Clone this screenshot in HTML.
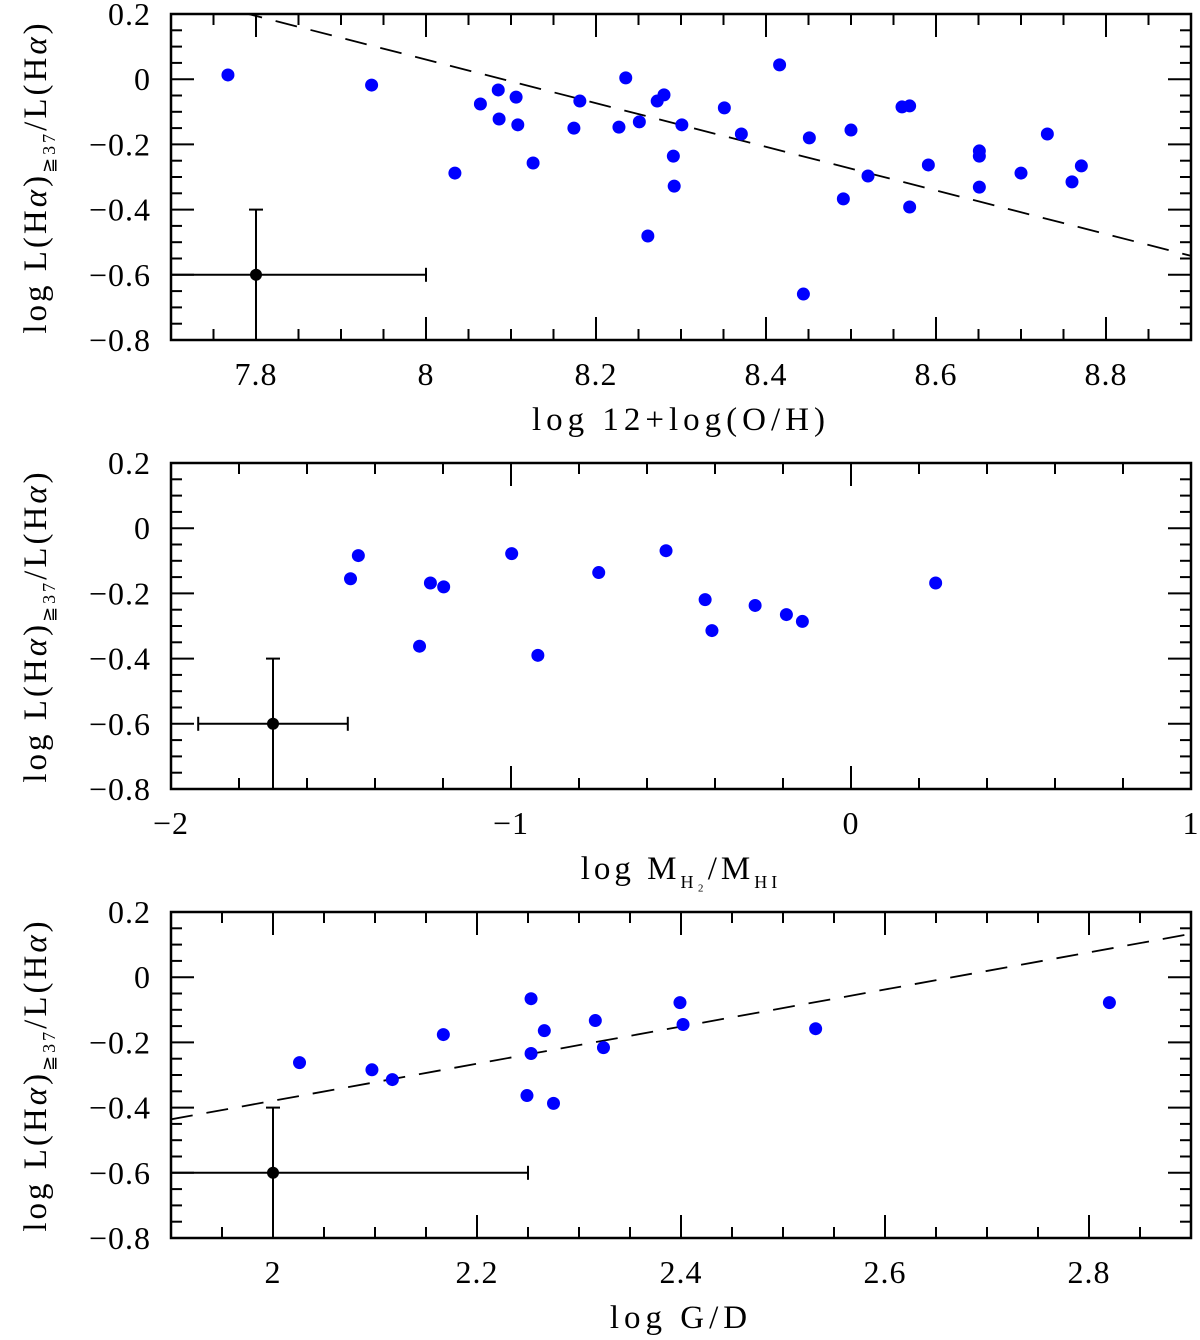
<!DOCTYPE html>
<html><head><meta charset="utf-8">
<style>
html,body{margin:0;padding:0;background:#fff;}
svg{display:block;}
text{font-family:"Liberation Serif","DejaVu Serif",serif;fill:#000;}
</style></head>
<body>
<svg id="chart" width="1200" height="1340" viewBox="0 0 1200 1340" xmlns="http://www.w3.org/2000/svg"></svg>
<script>
// Panel 1 data: metallicity
const p1X = [7.767,7.936,8.034,8.064,8.085,8.086,8.106,8.108,8.126,8.174,8.181,8.227,8.235,8.251,8.261,8.272,8.28,8.291,8.292,8.301,8.351,8.371,8.416,8.444,8.451,8.491,8.5,8.52,8.56,8.569,8.569,8.591,8.651,8.651,8.651,8.7,8.731,8.76,8.771];
const p1Y = [0.013,-0.018,-0.288,-0.076,-0.033,-0.122,-0.055,-0.14,-0.257,-0.15,-0.067,-0.147,0.004,-0.131,-0.481,-0.067,-0.048,-0.236,-0.328,-0.14,-0.088,-0.168,0.044,-0.659,-0.18,-0.367,-0.156,-0.297,-0.085,-0.082,-0.392,-0.263,-0.22,-0.236,-0.331,-0.288,-0.168,-0.315,-0.266];
const p1Fit = [0.194,-0.669,7.8];
const p1Err = [7.8,-0.6,7.7,8.0,-0.8,-0.4];
const p1XTicks = [7.8,8,8.2,8.4,8.6,8.8];
const p1XLabels = ["7.8","8","8.2","8.4","8.6","8.8"];
// Panel 2 data: molecular fraction
const p2X = [-1.472,-1.449,-1.269,-1.237,-1.198,-0.998,-0.921,-0.742,-0.544,-0.429,-0.409,-0.282,-0.19,-0.143,0.249];
const p2Y = [-0.155,-0.084,-0.362,-0.168,-0.18,-0.078,-0.39,-0.136,-0.069,-0.219,-0.314,-0.237,-0.265,-0.286,-0.168];
const p2Err = [-1.7,-0.6,-1.92,-1.48,-0.8,-0.4];
const p2XTicks = [-2,-1,0,1];
const p2XLabels = ["\u22122","\u22121","0","1"];
// Panel 3 data: gas-to-dust
const p3X = [2.026,2.097,2.117,2.167,2.253,2.253,2.249,2.266,2.275,2.316,2.324,2.399,2.402,2.532,2.82];
const p3Y = [-0.262,-0.284,-0.314,-0.176,-0.066,-0.234,-0.363,-0.164,-0.387,-0.133,-0.216,-0.078,-0.145,-0.158,-0.078];
const p3Fit = [-0.436,0.569,1.9];
const p3Err = [2.0,-0.6,1.9,2.25,-0.8,-0.4];
const p3XTicks = [2,2.2,2.4,2.6,2.8];
const p3XLabels = ["2","2.2","2.4","2.6","2.8"];
// shared y
const yTicks = [0.2,0,-0.2,-0.4,-0.6,-0.8];
const yLabels = ["0.2","0","\u22120.2","\u22120.4","\u22120.6","\u22120.8"];

const NS="http://www.w3.org/2000/svg";
const svg=document.getElementById('chart');
function mk(tag,attrs,parent){const e=document.createElementNS(NS,tag);for(const k in attrs)e.setAttribute(k,attrs[k]);(parent||svg).appendChild(e);return e;}

function panel(cfg){
  const L=171,R=1191,T=cfg.top,B=cfg.top+326;
  const g=mk('g',{});
  
  
  const sx=v=>L+(v-cfg.xmin)/(cfg.xmax-cfg.xmin)*(R-L);
  const sy=v=>T+(0.2-v)/1.0*(B-T);
  const clipId='clip'+cfg.top;
  const cp=mk('clipPath',{id:clipId},g);mk('rect',{x:L,y:T,width:R-L,height:B-T},cp);
  const fr=mk('rect',{x:L,y:T,width:R-L,height:B-T,fill:'none',stroke:'#000','stroke-width':2.5},g);
  
  
  const nx=Math.round((cfg.xmax-cfg.xmin)/cfg.xminor);
  for(let i=0;i<=nx;i++){
    const v=cfg.xmin+i*cfg.xminor;
    const major=Math.abs(v/cfg.xmajor-Math.round(v/cfg.xmajor))<1e-6;
    const len=major?23:11;const x=sx(v);
    mk('line',{x1:x,y1:B,x2:x,y2:B-len,stroke:'#000','stroke-width':2},g);
    mk('line',{x1:x,y1:T,x2:x,y2:T+len,stroke:'#000','stroke-width':2},g);
  }
  for(let i=0;i<=20;i++){
    const v=-0.8+i*0.05;
    const major=i%4===0;const len=major?23:11;const y=sy(v);
    mk('line',{x1:L,y1:y,x2:L+len,y2:y,stroke:'#000','stroke-width':2},g);
    mk('line',{x1:R,y1:y,x2:R-len,y2:y,stroke:'#000','stroke-width':2},g);
  }
  cfg.xt.forEach((v,i)=>{
    const t=mk('text',{x:sx(v),y:B+45,'font-size':32,'letter-spacing':1,'text-anchor':'middle'},g);t.textContent=cfg.xl[i];
    
    
  });
  yTicks.forEach((v,i)=>{
    const t=mk('text',{x:151,y:sy(v)+11,'font-size':32,'letter-spacing':1,'text-anchor':'end'},g);t.textContent=yLabels[i];
    
    
  });
  const yt=mk('text',{transform:`translate(46,${(T+B)/2}) rotate(-90)`,'font-size':33,'letter-spacing':3,'text-anchor':'middle'},g);
  yt.innerHTML='log L(H<tspan font-style="italic">α</tspan>)<tspan font-size="18" dy="9">≧37</tspan><tspan dy="-9">/L(H</tspan><tspan font-style="italic">α</tspan>)';
  
  
  const xt=mk('text',{x:cfg.titleX,y:B+90,'font-size':33,'letter-spacing':cfg.ls,'text-anchor':'middle'},g);
  xt.innerHTML=cfg.xtitle;
  
  
  if(cfg.fit){
    const f=cfg.fit;const fy=v=>f[0]+f[1]*(v-f[2]);
    const ln=mk('line',{x1:sx(cfg.xmin),y1:sy(fy(cfg.xmin)),x2:sx(cfg.xmax),y2:sy(fy(cfg.xmax)),stroke:'#000','stroke-width':1.8,'stroke-dasharray':'22,14','clip-path':`url(#${clipId})`},g);
    
    
  }
  const e=cfg.err;const eg=mk('g',{stroke:'#000','stroke-width':2,'clip-path':`url(#${clipId})`},g);
  
  
  mk('line',{x1:sx(e[2]),y1:sy(e[1]),x2:sx(e[3]),y2:sy(e[1])},eg);
  mk('line',{x1:sx(e[0]),y1:sy(e[4]),x2:sx(e[0]),y2:sy(e[5])},eg);
  mk('line',{x1:sx(e[2]),y1:sy(e[1])-7,x2:sx(e[2]),y2:sy(e[1])+7},eg);
  mk('line',{x1:sx(e[3]),y1:sy(e[1])-7,x2:sx(e[3]),y2:sy(e[1])+7},eg);
  mk('line',{x1:sx(e[0])-7,y1:sy(e[5]),x2:sx(e[0])+7,y2:sy(e[5])},eg);
  mk('circle',{cx:sx(e[0]),cy:sy(e[1]),r:6,fill:'#000',stroke:'none'},eg);
  cfg.X.forEach((v,i)=>{
    const c=mk('circle',{cx:sx(v),cy:sy(cfg.Y[i]),r:6.5,fill:'#0000ff'},g);
    
    
  });
}
panel({name:'panel-metallicity',top:14,xmin:7.7,xmax:8.9,xmajor:0.2,xminor:0.05,xt:p1XTicks,xl:p1XLabels,X:p1X,Y:p1Y,fit:p1Fit,err:p1Err,titleX:681,ls:5,xtitle:'log 12+log(O/H)'});
panel({name:'panel-molecular-ratio',top:463,xmin:-2,xmax:1,xmajor:1,xminor:0.2,xt:p2XTicks,xl:p2XLabels,X:p2X,Y:p2Y,fit:null,err:p2Err,titleX:681,ls:4,xtitle:'log M<tspan font-size="18" dy="9">H₂</tspan><tspan dy="-9">/M</tspan><tspan font-size="18" dy="9">HI</tspan>'});
panel({name:'panel-gas-to-dust',top:912,xmin:1.9,xmax:2.9,xmajor:0.2,xminor:0.05,xt:p3XTicks,xl:p3XLabels,X:p3X,Y:p3Y,fit:p3Fit,err:p3Err,titleX:681,ls:5,xtitle:'log G/D'});
</script>
</body></html>
